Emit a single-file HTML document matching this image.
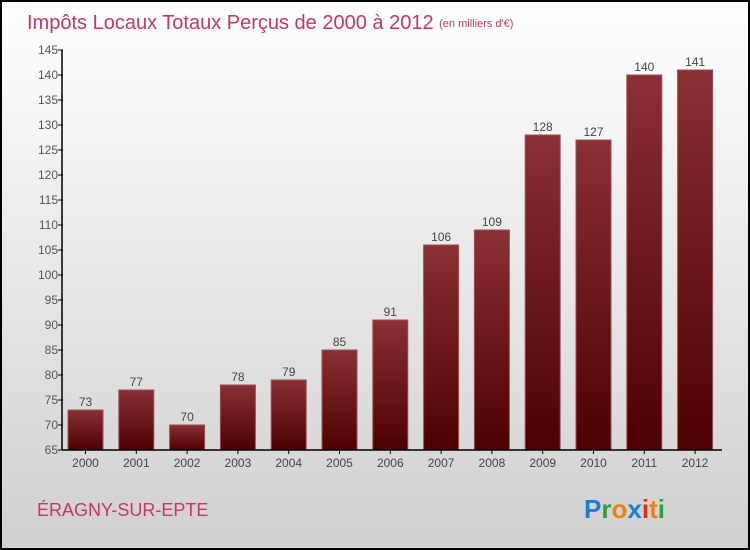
<!DOCTYPE html>
<html><head><meta charset="utf-8"><style>
body{margin:0}
#c{width:750px;height:550px;position:relative;box-sizing:border-box;border:2px solid #000;background:linear-gradient(#ffffff,#d0d0d0);font-family:"Liberation Sans",sans-serif;overflow:hidden}
</style></head><body>
<div id="c">
<svg width="746" height="546" style="position:absolute;left:0;top:0" id="svg">
<defs><linearGradient id="g" x1="0" y1="0" x2="0" y2="1"><stop offset="0" stop-color="#8a3035"/><stop offset="1" stop-color="#4d0000"/></linearGradient></defs>
<text x="25" y="27" font-size="20" fill="#c8365e">Impôts Locaux Totaux Perçus de 2000 à 2012 <tspan font-size="11" dy="-2">(en milliers d'€)</tspan></text>
<text x="35" y="514" font-size="18" fill="#c8365e">ÉRAGNY-SUR-EPTE</text>
<g font-size="26" font-weight="bold" font-family="Liberation Sans, sans-serif"><text x="582" y="516" fill="#1a7fd4">P<tspan fill="#2e9e3e">r</tspan><tspan fill="#f08010">o</tspan><tspan fill="#1a7fd4">x</tspan><tspan fill="#e03010">i</tspan><tspan fill="#f08010">t</tspan><tspan fill="#2e9e3e">i</tspan></text></g>
<g id="plot"></g>
</svg>
</div>
<script>
const categories=["2000","2001","2002","2003","2004","2005","2006","2007","2008","2009","2010","2011","2012"];
const values=[73,77,70,78,79,85,91,106,109,128,127,140,141];
const yTicks=[65,70,75,80,85,90,95,100,105,110,115,120,125,130,135,140,145];
const ns="http://www.w3.org/2000/svg";
const g=document.getElementById('plot');
const y0=448,yTop=48,vMin=65,vMax=145;
const y=v=>y0-(v-vMin)/(vMax-vMin)*(y0-yTop);
const x=i=>83.5+i*50.8;
function mk(t,a,p){const e=document.createElementNS(ns,t);for(const k in a)e.setAttribute(k,a[k]);(p||g).appendChild(e);return e;}
yTicks.forEach(v=>{
 const l=mk('line',{x1:56,x2:61,y1:y(v),y2:y(v),stroke:'#000'});
 
 
 const t=mk('text',{x:56,y:y(v)+4,'font-size':12,fill:'#555','text-anchor':'end'});
 t.textContent=v;
 
 
});
values.forEach((v,i)=>{
 const r=mk('rect',{x:x(i)-17.5,y:y(v),width:35,height:y0-y(v),fill:'url(#g)',stroke:'#9a5055','stroke-width':1});
 
 
 const t=mk('text',{x:x(i),y:y(v)-4,'font-size':12,fill:'#444','text-anchor':'middle'});
 t.textContent=v;
 
 
 const c=mk('text',{x:x(i),y:y0+17,'font-size':12,fill:'#444','text-anchor':'middle'});
 c.textContent=categories[i];
 
 
 const tk=mk('line',{x1:x(i),x2:x(i),y1:y0,y2:y0+4,stroke:'#000'});
 
 
});
const ya=mk('line',{x1:60,x2:60,y1:yTop,y2:y0,stroke:'#000','stroke-width':1.5});


const xa=mk('line',{x1:60,x2:720,y1:y0,y2:y0,stroke:'#000','stroke-width':1.5});


</script>
</body></html>
